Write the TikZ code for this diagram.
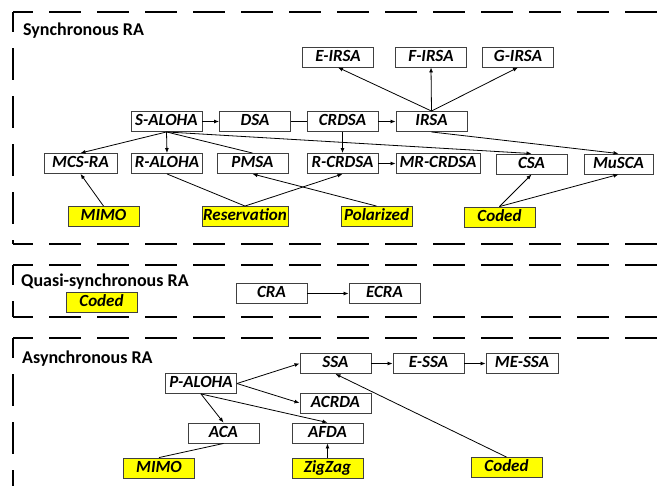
\documentclass[tikz,border=0pt]{standalone}
\usepackage{fontspec}
\setmainfont{Carlito}
\usetikzlibrary{arrows.meta}
\definecolor{boxline}{HTML}{404040}
\definecolor{hl}{HTML}{FFFF00}
\tikzset{
  algo/.style={draw=boxline, line width=0.9pt, fill=white, inner sep=0pt,
    minimum width=71pt, minimum height=20pt, text height=11.5pt, text depth=3pt,
    font=\bfseries\itshape\fontsize{17}{19}\selectfont},
  feat/.style={algo, fill=hl},
  grouptitle/.style={anchor=base west, inner sep=0pt,
    font=\bfseries\fontsize{18}{21}\selectfont},
  frame/.style={line width=1.6pt, dash pattern=on 32pt off 16pt, dash phase=12pt},
  conn/.style={line width=0.8pt, black},
  arr/.style={conn, -{Latex[length=5pt,width=4pt]}}
}
\begin{document}
\begin{tikzpicture}[x=1pt, y=-1pt]
\useasboundingbox (0,0) rectangle (663,485);
% frames
\draw[frame] (13,12) -- (700,12);
\draw[frame] (13,12) -- (13,244);
\draw[frame] (13,244) -- (700,244);
\draw[frame] (13,265) -- (700,265);
\draw[frame] (13,265) -- (13,317);
\draw[frame] (13,317) -- (700,317);
\draw[frame] (13,338) -- (700,338);
\draw[frame] (13,338) -- (13,500);
% titles
\node[grouptitle] (t1) at (23,35) {Synchronous RA};
\node[grouptitle] (t2) at (21,286) {Quasi-synchronous RA};
\node[grouptitle] (t3) at (22,363) {Asynchronous RA};
% synchronous
\node[algo] (eirsa) at (338,57) {E-IRSA};
\node[algo] (firsa) at (431,57) {F-IRSA};
\node[algo] (girsa) at (518,57) {G-IRSA};
\node[algo] (saloha) at (166.5,121.5) {S-ALOHA};
\node[algo] (dsa) at (255,121.5) {DSA};
\node[algo] (crdsa) at (342.5,121.5) {CRDSA};
\node[algo] (irsa) at (431.5,121.5) {IRSA};
\node[algo, minimum width=73pt] (mcsra) at (80.5,163.5) {MCS-RA};
\node[algo] (raloha) at (167,163.5) {R-ALOHA};
\node[algo] (pmsa) at (252.5,163.5) {PMSA};
\node[algo] (rcrdsa) at (342.5,163.5) {R-CRDSA};
\node[algo, minimum width=84pt] (mrcrdsa) at (438,163.5) {MR-CRDSA};
\node[algo] (csa) at (531.5,164) {CSA};
\node[algo, minimum width=69pt] (musca) at (618.5,164) {MuSCA};
\node[feat] (mimo) at (103.5,216.5) {MIMO};
\node[feat, minimum width=86pt] (reserv) at (245,216.5) {Reservation};
\node[feat] (polar) at (376.5,216.5) {Polarized};
\node[feat] (codeda) at (499.5,217) {Coded};
% quasi-synchronous
\node[feat] (codedb) at (101.5,302) {Coded};
\node[algo] (cra) at (271.5,293.5) {CRA};
\node[algo] (ecra) at (384.5,293.5) {ECRA};
% asynchronous
\node[algo] (ssa) at (335.5,363.5) {SSA};
\node[algo] (essa) at (428.5,363.5) {E-SSA};
\node[algo, minimum width=72pt] (messa) at (522,363.5) {ME-SSA};
\node[algo] (paloha) at (201,383.5) {P-ALOHA};
\node[algo] (acrda) at (335.5,403) {ACRDA};
\node[algo] (aca) at (223.5,433) {ACA};
\node[algo] (afda) at (327.5,433) {AFDA};
\node[feat] (mimob) at (159,468) {MIMO};
\node[feat] (zigzag) at (327.5,468) {ZigZag};
\node[feat] (codedc) at (506.5,467.5) {Coded};
% synchronous connectors
\draw[arr] (saloha) -- (dsa);
\draw[conn] (dsa) -- (crdsa);
\draw[arr] (crdsa) -- (irsa);
\draw[arr] (irsa.north) -- (eirsa.south);
\draw[arr] (irsa.north) -- (firsa.south);
\draw[arr] (irsa.north) -- (girsa.south);
\draw[arr] (saloha.south) -- (mcsra.north);
\draw[arr] (saloha.south) -- (raloha.north);
\draw[conn] (saloha.south) -- (pmsa.north);
\draw[arr] (saloha.south) -- (csa.north);
\draw[arr] (crdsa.south) -- (rcrdsa.north);
\draw[arr] (rcrdsa) -- (mrcrdsa);
\draw[arr] (irsa.south) -- (musca.north);
\draw[arr] (mimo.north) -- (mcsra.south);
\draw[conn] (reserv.north) -- (raloha.south);
\draw[arr] (reserv.north) -- (rcrdsa.south);
\draw[arr] (polar.north) -- (pmsa.south);
\draw[arr] (codeda.north) -- (csa.south);
\draw[arr] (codeda.north) -- (musca.south);
% quasi connectors
\draw[arr] (cra) -- (ecra);
% asynchronous connectors
\draw[arr] (ssa) -- (essa);
\draw[arr] (essa) -- (messa);
\draw[arr] (paloha.east) -- (ssa.west);
\draw[arr] (paloha.east) -- (acrda.west);
\draw[arr] (paloha.south) -- (aca.north);
\draw[arr] (paloha.south) -- (afda.north);
\draw[conn] (mimob.north) -- (aca.south);
\draw[arr] (zigzag) -- (afda);
\draw[arr] (codedc.north) -- (ssa.south);
\end{tikzpicture}
\end{document}
